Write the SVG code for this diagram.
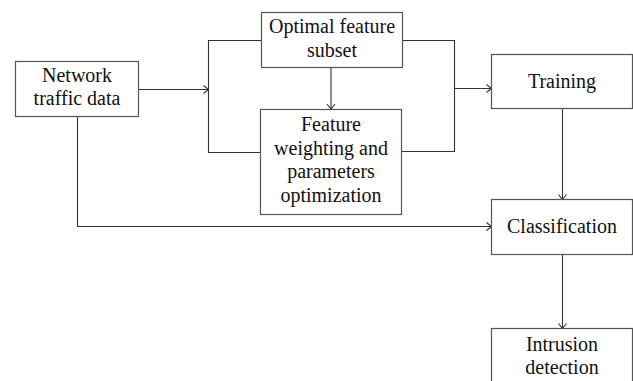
<svg xmlns="http://www.w3.org/2000/svg" width="633" height="381" viewBox="0 0 633 381">
<style>
.box{fill:#fff;stroke:#555;stroke-width:1.2}
.t{font-family:'Liberation Serif',serif;font-size:20px;fill:#111;text-anchor:middle}
.c{fill:none;stroke:#333;stroke-width:1.1}
</style>
<defs>
<marker id="ah" markerUnits="userSpaceOnUse" markerWidth="8" markerHeight="10" refX="6" refY="5" orient="auto">
<path d="M1,1 L6,5 L1,9" fill="none" stroke="#333" stroke-width="1.1"/>
</marker>
</defs>
<rect width="633" height="381" fill="#fff"/>
<g id="connectors">
<path class="c" d="M138.5 89.5 H208.5" marker-end="url(#ah)"/>
<path class="c" d="M261.5 40.5 H208.5 V152.5 H260.5"/>
<path class="c" d="M331 67.5 V109" marker-end="url(#ah)"/>
<path class="c" d="M402.5 40.5 H454.5 V151.5 H401.5"/>
<path class="c" d="M454.5 88.5 H491.5" marker-end="url(#ah)"/>
<path class="c" d="M562.5 108.5 V199.5" marker-end="url(#ah)"/>
<path class="c" d="M77.5 116.5 V226.5 H491.5" marker-end="url(#ah)"/>
<path class="c" d="M562.5 254.5 V328.5" marker-end="url(#ah)"/>
</g>
<g id="network">
<rect class="box" x="15.5" y="61.5" width="123" height="55"/>
<text class="t" x="77" y="82">Network</text>
<text class="t" x="77" y="105">traffic data</text>
</g>
<g id="optimal">
<rect class="box" x="261.5" y="12.5" width="141" height="55"/>
<text class="t" x="332" y="33">Optimal feature</text>
<text class="t" x="332" y="57">subset</text>
</g>
<g id="weighting">
<rect class="box" x="260.5" y="109.5" width="141" height="105"/>
<text class="t" x="331" y="131">Feature</text>
<text class="t" x="331" y="155">weighting and</text>
<text class="t" x="331" y="178">parameters</text>
<text class="t" x="331" y="202">optimization</text>
</g>
<g id="training">
<rect class="box" x="491.5" y="54.5" width="141" height="54"/>
<text class="t" x="562" y="88">Training</text>
</g>
<g id="classification">
<rect class="box" x="491.5" y="199.5" width="141" height="55"/>
<text class="t" x="562" y="233">Classification</text>
</g>
<g id="intrusion">
<rect class="box" x="491.5" y="328.5" width="141" height="62"/>
<text class="t" x="562" y="351">Intrusion</text>
<text class="t" x="562" y="374">detection</text>
</g>
</svg>
